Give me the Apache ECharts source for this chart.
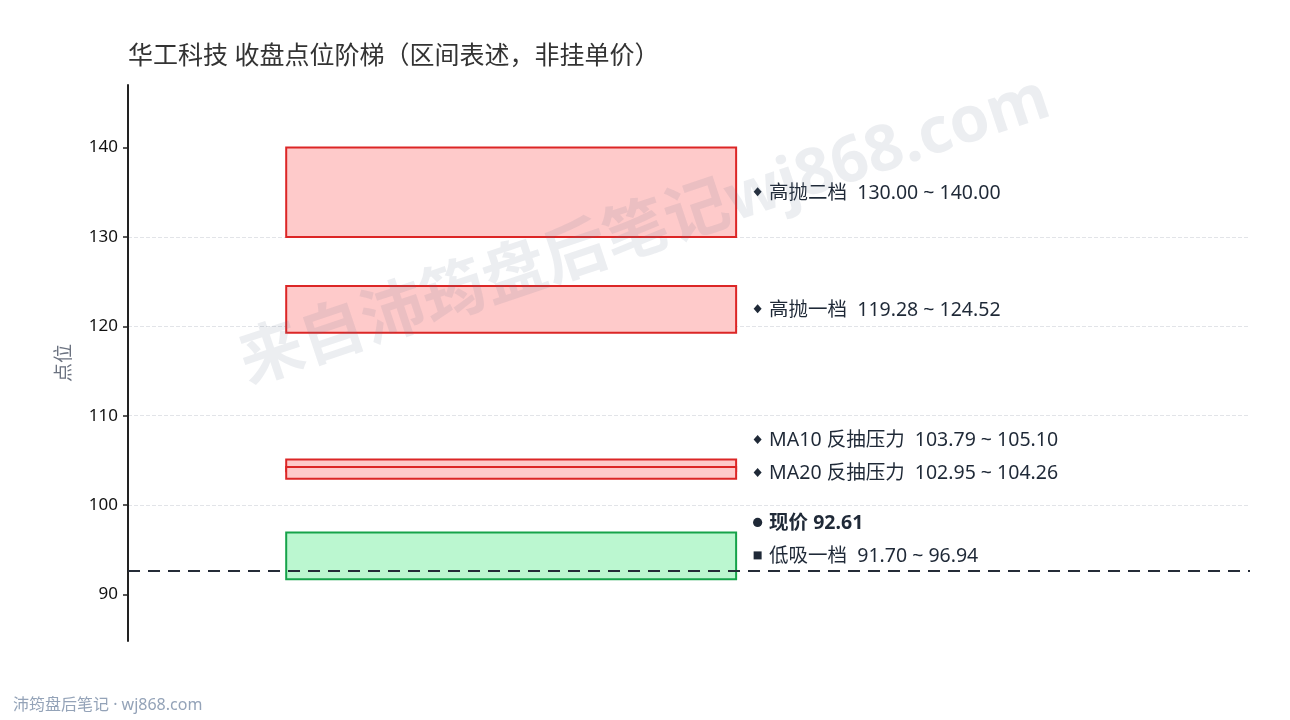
<!DOCTYPE html>
<html>
<head>
<meta charset="utf-8">
<title>华工科技 收盘点位阶梯</title>
<script src="https://cdn.jsdelivr.net/npm/echarts@6/dist/echarts.min.js"></script>
<style>
  html, body { margin: 0; padding: 0; background: #fff; }
  #main { width: 1290px; height: 720px; }
</style>
</head>
<body>
<div id="main"></div>
<script>
// 区间数据
var zoneNames = ['高抛二档', '高抛一档', 'MA10 反抽压力', 'MA20 反抽压力', '低吸一档'];
var zoneLows  = [130.00, 119.28, 103.79, 102.95, 91.70];
var zoneHighs = [140.00, 124.52, 105.10, 104.26, 96.94];
var zoneKinds = ['sell', 'sell', 'sell', 'sell', 'buy'];
var priceName = '现价';
var priceNow = 92.61;
var yTicks = [90, 100, 110, 120, 130, 140];

var font = '"Noto Sans", "Noto Sans CJK SC", sans-serif';
var textColor = '#1f2937';

// 方块左右位置（x轴 0~1）
var BOX_L = 0.141, BOX_R = 0.542;

// 标签列表：区间 + 现价，按下沿从高到低排
var labels = [];
for (var i = 0; i < zoneNames.length; i++) {
  labels.push({
    text: zoneNames[i] + '  ' + zoneLows[i].toFixed(2) + ' ~ ' + zoneHighs[i].toFixed(2),
    sortKey: zoneLows[i],
    anchor: (zoneLows[i] + zoneHighs[i]) / 2,
    kind: zoneKinds[i]
  });
}
labels.push({ text: priceName + ' ' + priceNow.toFixed(2), sortKey: priceNow, anchor: priceNow, kind: 'price' });
labels.sort(function(a, b) { return b.sortKey - a.sortKey; });

// 避让：自下而上，最小间距 33px
function labelYs(api) {
  var ys = labels.map(function(l) { return api.coord([0, l.anchor])[1]; });
  for (var k = ys.length - 2; k >= 0; k--) {
    ys[k] = Math.min(ys[k], ys[k + 1] - 33);
  }
  return ys;
}

var myChart = echarts.init(document.getElementById('main'));

var option = {
  backgroundColor: '#fff',
  animation: false,
  title: {
    text: '华工科技 收盘点位阶梯（区间表述，非挂单价）',
    left: 123,
    top: 39,
    textStyle: { color: '#333', fontSize: 25, fontWeight: 'normal', fontFamily: font }
  },
  grid: { left: 128, right: 40, top: 85, bottom: 79 },
  xAxis: {
    type: 'value',
    min: 0,
    max: 1,
    show: false
  },
  yAxis: {
    type: 'value',
    min: 84.8,
    max: 147,
    name: '点位',
    nameLocation: 'middle',
    nameGap: 54,
    nameTextStyle: { color: '#6b7280', fontSize: 19, fontFamily: font },
    axisLine: { show: true, lineStyle: { color: '#222', width: 2 } },
    axisTick: { show: true, length: 5, customValues: yTicks, lineStyle: { color: '#222', width: 1.5 } },
    axisLabel: { color: '#111', fontSize: 17, fontFamily: font, margin: 10, customValues: yTicks },
    splitLine: {
      show: true,
      showMinLine: false,
      showMaxLine: false,
      lineStyle: { color: '#e2e4e8', type: 'dashed', width: 1 }
    }
  },
  graphic: [
    {
      type: 'text',
      x: 645,
      y: 232,
      rotation: 18.5 * Math.PI / 180,
      z: 100,
      silent: true,
      style: {
        text: '来自沛筠盘后笔记wj868.com',
        fill: 'rgba(100,116,139,0.12)',
        font: 'bold 64px "Noto Sans", "Noto Sans CJK SC", sans-serif',
        align: 'center',
        verticalAlign: 'middle'
      }
    },
    {
      type: 'text',
      left: 13,
      top: 697,
      style: {
        text: '沛筠盘后笔记 · wj868.com',
        fill: '#94a3b8',
        font: '16px "Noto Sans", "Noto Sans CJK SC", sans-serif'
      }
    }
  ],
  series: [
    {
      name: '区间',
      type: 'custom',
      renderItem: function(params, api) {
        var lo = api.value(1), hi = api.value(2), kind = zoneKinds[params.dataIndex];
        var p0 = api.coord([BOX_L, hi]);
        var p1 = api.coord([BOX_R, lo]);
        return {
          type: 'rect',
          shape: { x: p0[0], y: p0[1], width: p1[0] - p0[0], height: p1[1] - p0[1] },
          style: {
            fill: kind === 'buy' ? '#bbf7d0' : '#fecaca',
            stroke: kind === 'buy' ? '#16a34a' : '#dc2626',
            lineWidth: 2
          }
        };
      },
      encode: { y: [1, 2] },
      data: zoneNames.map(function(n, i) { return [i, zoneLows[i], zoneHighs[i]]; }),
      z: 2
    },
    {
      name: '现价线',
      type: 'line',
      data: [],
      markLine: {
        silent: true,
        symbol: 'none',
        label: { show: false },
        lineStyle: { color: '#252c38', width: 2.2, type: [12, 8] },
        data: [{ yAxis: priceNow }]
      },
      z: 3
    },
    {
      name: '标签',
      type: 'custom',
      renderItem: function(params, api) {
        var idx = params.dataIndex;
        var l = labels[idx];
        var y = labelYs(api)[idx] + 1;
        var xr = api.coord([BOX_R, 0])[0];
        var mx = xr + 21.5;
        var my = y - 1.5;
        var marker;
        if (l.kind === 'price') {
          marker = { type: 'circle', shape: { cx: mx, cy: my, r: 4.6 }, style: { fill: textColor } };
        } else if (l.kind === 'buy') {
          marker = { type: 'rect', shape: { x: mx - 4, y: my - 4, width: 8, height: 8 }, style: { fill: textColor } };
        } else {
          marker = { type: 'polygon', shape: { points: [[mx, my - 4.5], [mx + 4, my], [mx, my + 4.5], [mx - 4, my]] }, style: { fill: textColor } };
        }
        return {
          type: 'group',
          children: [
            marker,
            {
              type: 'text',
              style: {
                text: l.text,
                x: xr + 33,
                y: y,
                fill: textColor,
                fontSize: 19.5,
                fontFamily: font,
                fontWeight: l.kind === 'price' ? 'bold' : 'normal',
                align: 'left',
                verticalAlign: 'middle'
              }
            }
          ]
        };
      },
      data: labels.map(function(l, i) { return [i, l.anchor]; }),
      encode: { y: 1 },
      z: 4
    }
  ]
};
myChart.setOption(option);
</script>
</body>
</html>
